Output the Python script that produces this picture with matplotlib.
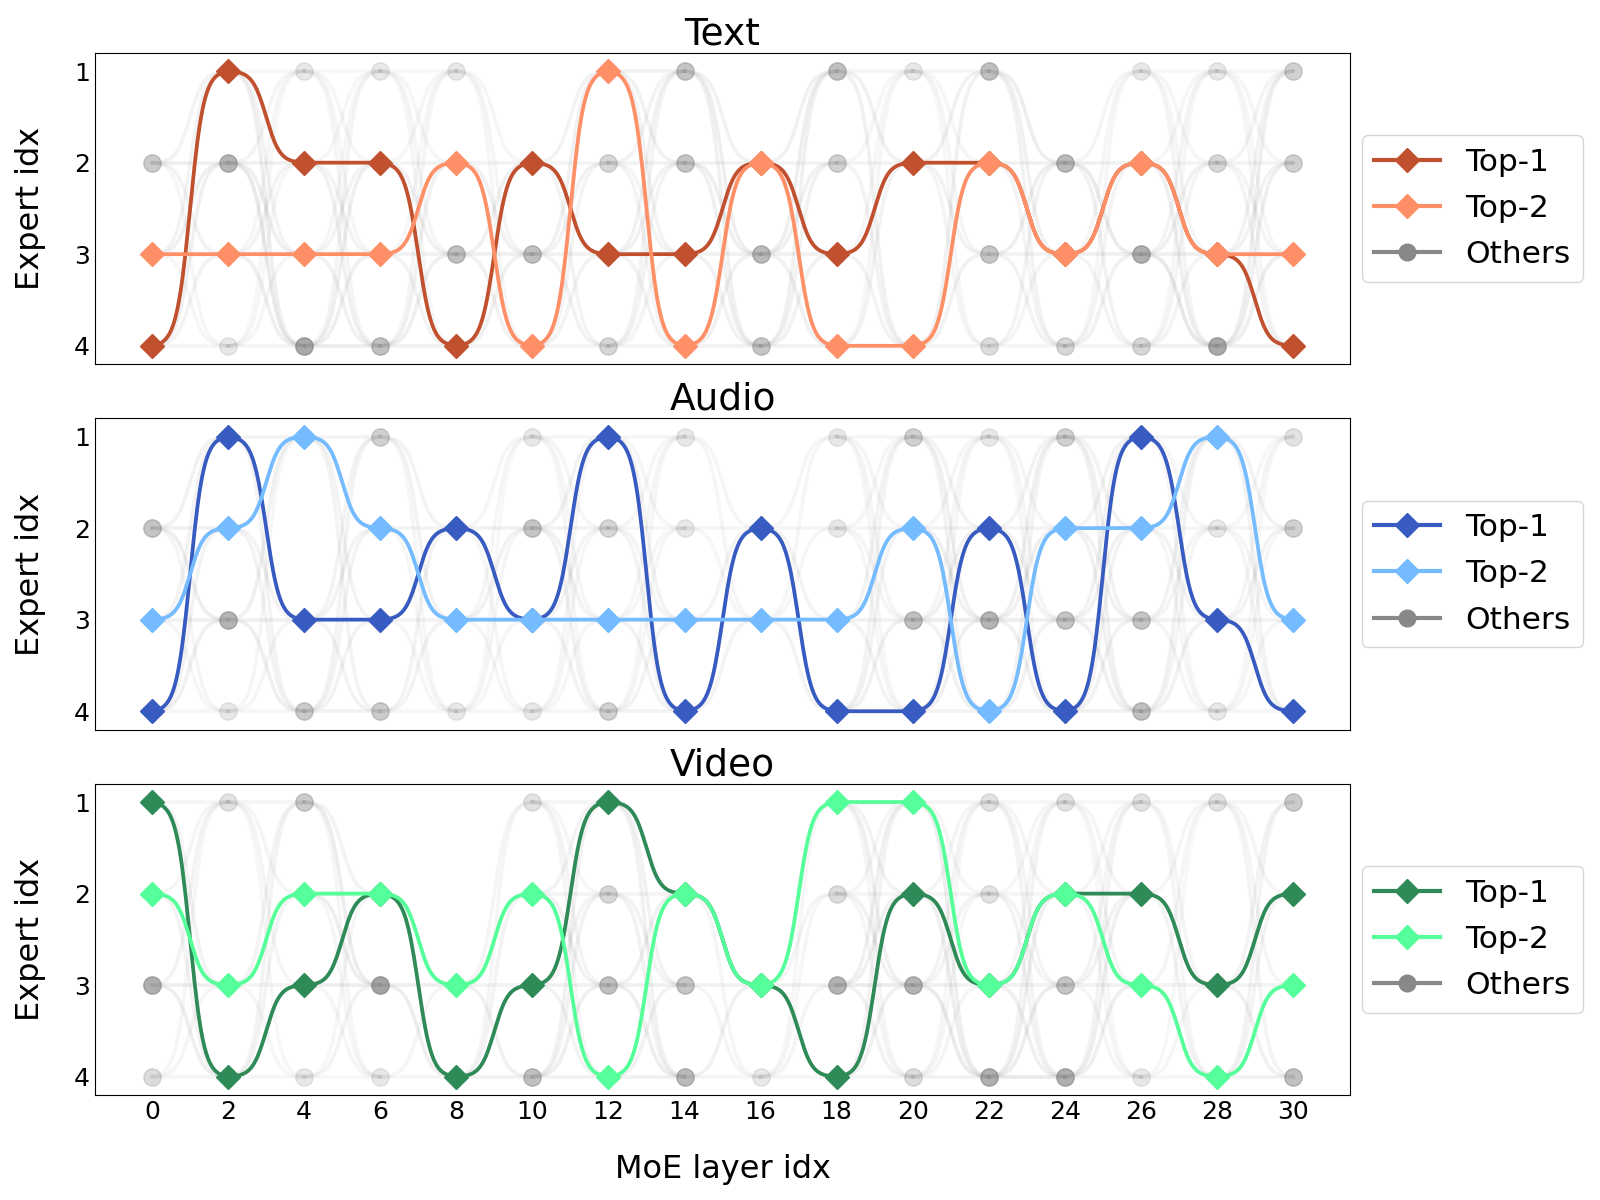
import numpy as np
import matplotlib.pyplot as plt
from matplotlib.lines import Line2D

layers = np.arange(0, 31, 2)
experts = [1, 2, 3, 4]
titles = ['Text', 'Audio', 'Video']

# selected expert per layer
text_top1 = [4, 1, 2, 2, 4, 2, 3, 3, 2, 3, 2, 2, 3, 2, 3, 4]
text_top2 = [3, 3, 3, 3, 2, 4, 1, 4, 2, 4, 4, 2, 3, 2, 3, 3]
audio_top1 = [4, 1, 3, 3, 2, 3, 1, 4, 2, 4, 4, 2, 4, 1, 3, 4]
audio_top2 = [3, 2, 1, 2, 3, 3, 3, 3, 3, 3, 2, 4, 2, 2, 1, 3]
video_top1 = [1, 4, 3, 2, 4, 3, 1, 2, 3, 4, 2, 3, 2, 2, 3, 2]
video_top2 = [2, 3, 2, 2, 3, 2, 4, 2, 3, 1, 1, 3, 2, 3, 4, 3]

# shade of the remaining experts (rows = expert 1..4, 0 = not shown)
text_others = [
    [0, 0, .2, .2, .2, 0, 0, .5, 0, .55, .2, .55, 0, .2, .2, .4],
    [.45, .65, 0, 0, 0, 0, .35, .5, 0, .4, 0, 0, .6, 0, .35, .4],
    [0, 0, 0, 0, .55, .55, 0, 0, .6, 0, 0, .5, 0, .7, 0, 0],
    [0, .2, .75, .55, 0, 0, .35, 0, .5, 0, 0, .3, .35, .35, .75, 0],
]
audio_others = [
    [0, 0, 0, .4, 0, .2, 0, .2, 0, .2, .4, .2, .4, 0, 0, .25],
    [.5, 0, 0, 0, 0, .5, .35, .2, 0, .2, 0, 0, 0, 0, .2, .4],
    [0, .65, 0, 0, 0, 0, 0, 0, 0, 0, .55, .65, .5, .5, 0, 0],
    [0, .2, .45, .45, .2, .2, .4, 0, 0, 0, 0, 0, 0, .55, .2, 0],
]
video_others = [
    [0, .25, .45, 0, 0, .25, 0, 0, 0, 0, 0, .25, .25, .25, .25, .45],
    [0, 0, 0, 0, 0, 0, .35, 0, 0, .3, 0, .25, 0, 0, 0, 0],
    [.7, 0, 0, .8, 0, 0, .55, .5, 0, .65, .65, 0, .5, 0, 0, 0],
    [.3, 0, .2, .2, 0, .55, 0, .6, .2, 0, .3, .7, .7, .2, 0, .55],
]

top1_all = [text_top1, audio_top1, video_top1]
top2_all = [text_top2, audio_top2, video_top2]
others_all = [text_others, audio_others, video_others]
colors1 = ['#C1502E', '#375BC1', '#2E8B57']
colors2 = ['#FF8F66', '#74BBFF', '#55FF99']


def smooth(x0, x1, y0, y1, k=11, n=60):
    t = np.linspace(0, 1, n)
    s = 1 / (1 + np.exp(-k * (t - 0.5)))
    s = (s - s[0]) / (s[-1] - s[0])
    return x0 + (x1 - x0) * t, y0 + (y1 - y0) * s


def path(ys):
    px, py = [], []
    for i in range(len(layers) - 1):
        xx, yy = smooth(layers[i], layers[i + 1], ys[i], ys[i + 1])
        px.append(xx)
        py.append(yy)
    return np.concatenate(px), np.concatenate(py)


fig, axes = plt.subplots(3, 1, figsize=(16, 12), dpi=100, sharex=True)
fig.subplots_adjust(left=0.0594, right=0.8438, top=0.956, bottom=0.0875, hspace=0.174)

for p, ax in enumerate(axes):
    top1, top2, others = top1_all[p], top2_all[p], others_all[p]

    # faint links between neighbouring layers
    for i in range(len(layers) - 1):
        for a in experts:
            wa = others[a - 1][i]
            if wa == 0 and a in (top1[i], top2[i]):
                wa = 0.4
            if wa == 0:
                continue
            for b in experts:
                wb = others[b - 1][i + 1]
                if wb == 0 and b in (top1[i + 1], top2[i + 1]):
                    wb = 0.4
                if wb == 0:
                    continue
                xx, yy = smooth(layers[i], layers[i + 1], a, b)
                ax.plot(xx, yy, color='gray', lw=2.6, alpha=0.05 + 0.25 * wa * wb, zorder=1)

    for e in experts:
        for i, x in enumerate(layers):
            a = others[e - 1][i]
            if a > 0:
                ax.plot(x, e, 'o', color='gray', ms=12.5, alpha=a * 0.9, zorder=2)

    xx, yy = path(top1)
    ax.plot(xx, yy, color=colors1[p], lw=2.7, zorder=3)
    ax.plot(layers, top1, 'D', color=colors1[p], ms=12, zorder=4)
    xx, yy = path(top2)
    ax.plot(xx, yy, color=colors2[p], lw=2.7, zorder=5)
    ax.plot(layers, top2, 'D', color=colors2[p], ms=12, zorder=6)

    ax.set_xlim(-1.5, 31.5)
    ax.set_ylim(4.2, 0.8)
    ax.set_yticks(experts)
    ax.set_xticks(layers)
    ax.tick_params(length=0, labelsize=18)
    ax.set_title(titles[p], fontsize=27)
    ax.set_ylabel('Expert idx', fontsize=23, labelpad=20)

    handles = [
        Line2D([], [], color=colors1[p], lw=3, marker='D', ms=12),
        Line2D([], [], color=colors2[p], lw=3, marker='D', ms=12),
        Line2D([], [], color='#888888', lw=3, marker='o', ms=12),
    ]
    ax.legend(handles, ['Top-1', 'Top-2', 'Others'], loc='center left',
              bbox_to_anchor=(0.997, 0.5), fontsize=22.5, handlelength=2.1,
              labelspacing=0.55)

axes[-1].set_xlabel('MoE layer idx', fontsize=23, labelpad=22)

plt.savefig('out.png')
